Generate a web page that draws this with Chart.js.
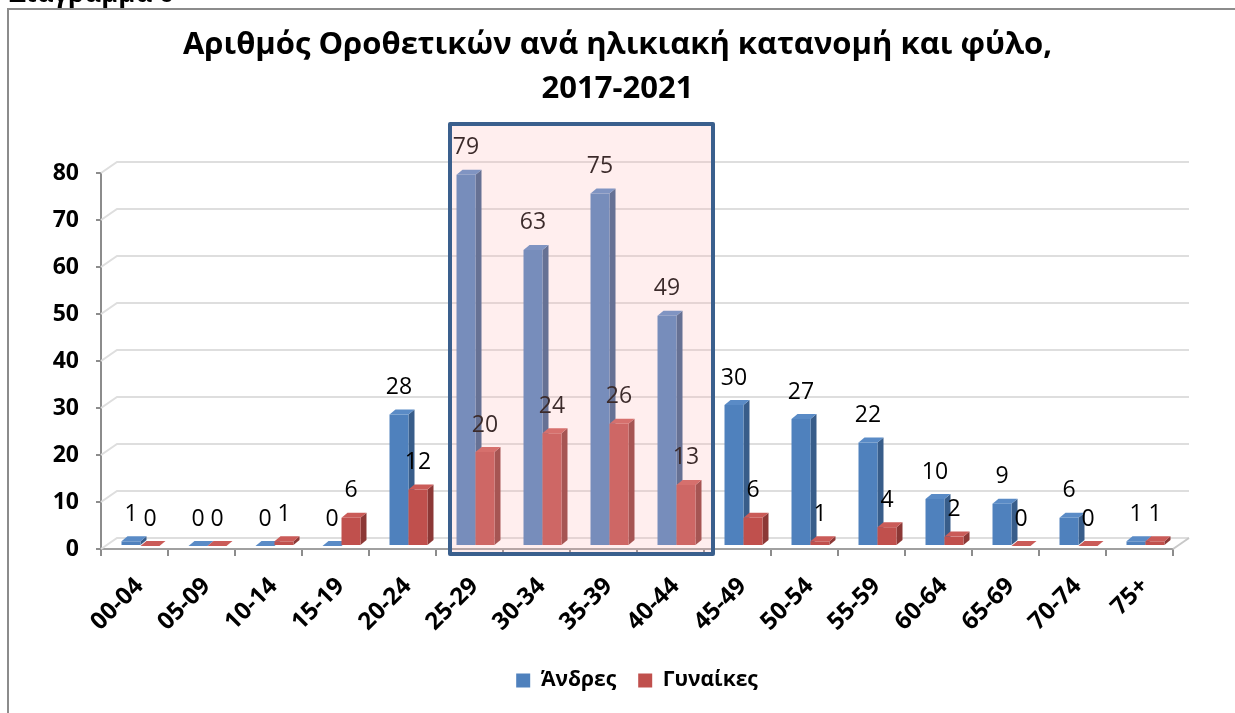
<!DOCTYPE html>
<html>
<head>
<meta charset="utf-8">
<script src="https://cdn.jsdelivr.net/npm/chart.js@4.4.0/dist/chart.umd.min.js"></script>
<style>
  body { margin: 0; background: #fff; }
  #wrap { position: relative; width: 1235px; height: 713px; overflow: hidden; }
  #caption { position: absolute; left: 9px; top: -21px; font: bold 26px/26px "Open Sans"; color: #000; white-space: nowrap; }
</style>
</head>
<body>
<div id="wrap">
  <div id="caption">Διάγραμμα 6</div>
  <canvas id="chart"></canvas>
</div>
<script>
// Chart data
const ageGroups = ["00-04", "05-09", "10-14", "15-19", "20-24", "25-29", "30-34", "35-39",
  "40-44", "45-49", "50-54", "55-59", "60-64", "65-69", "70-74", "75+"];
const men = [1, 0, 0, 0, 28, 79, 63, 75, 49, 30, 27, 22, 10, 9, 6, 1];
const women = [0, 0, 1, 6, 12, 20, 24, 26, 13, 6, 1, 4, 2, 0, 0, 1];
const yTicks = [0, 10, 20, 30, 40, 50, 60, 70, 80];
const seriesNames = ["Άνδρες", "Γυναίκες"];
const titleLines = ["Αριθμός Οροθετικών ανά ηλικιακή κατανομή και φύλο,", "2017-2021"];
const highlightFrom = "25-29";
const highlightTo = "40-44";

const FONT = "Open Sans";

// 3D look
const WALL_DX = 16, WALL_DY = -11;  // back wall offset
const BAR_DX = 6, BAR_DY = -3;      // bars stand mid depth
const SIDE_DX = 6, SIDE_DY = -5;    // bar thickness
const shades = [
  { front: "#4F81BD", top: "#5A8BC6", side: "#385D8A" },
  { front: "#C0504D", top: "#CA5B58", side: "#8C3836" }
];

function poly(ctx, color, pts) {
  ctx.fillStyle = color;
  ctx.beginPath();
  ctx.moveTo(pts[0][0], pts[0][1]);
  for (let k = 1; k < pts.length; k++) ctx.lineTo(pts[k][0], pts[k][1]);
  ctx.closePath();
  ctx.fill();
}

const bars3d = {
  id: "bars3d",
  beforeDraw(chart) {
    const ctx = chart.ctx;
    ctx.save();
    ctx.strokeStyle = "#8C8C8C";
    ctx.lineWidth = 2;
    ctx.beginPath();
    ctx.moveTo(8, chart.height);
    ctx.lineTo(8, 9);
    ctx.lineTo(chart.width, 9);
    ctx.stroke();
    ctx.restore();
  },
  beforeDatasetsDraw(chart) {
    const { ctx, chartArea: a, scales: { x, y } } = chart;
    ctx.save();

    // back wall grid lines
    ctx.strokeStyle = "#DEDEDE";
    ctx.lineWidth = 2;
    y.ticks.forEach(t => {
      const py = y.getPixelForValue(t.value);
      ctx.beginPath();
      ctx.moveTo(a.left, py);
      ctx.lineTo(a.left + WALL_DX, py + WALL_DY);
      ctx.lineTo(a.right + WALL_DX, py + WALL_DY);
      ctx.stroke();
    });
    ctx.strokeStyle = "#C8C8C8";
    ctx.beginPath();
    ctx.moveTo(a.right, a.bottom);
    ctx.lineTo(a.right + WALL_DX, a.bottom + WALL_DY);
    ctx.stroke();

    // bars, category by category
    const metas = chart.data.datasets.map((d, i) => chart.getDatasetMeta(i));
    for (let j = 0; j < chart.data.labels.length; j++) {
      metas.forEach((meta, i) => {
        const el = meta.data[j];
        const c = shades[i];
        const l = el.x - el.width / 2 + BAR_DX;
        const r = el.x + el.width / 2 + BAR_DX;
        const t = el.y + BAR_DY;
        const b = el.base + BAR_DY;
        poly(ctx, c.side, [[r, t], [r + SIDE_DX, t + SIDE_DY], [r + SIDE_DX, b + SIDE_DY], [r, b]]);
        if (b - t > 0) poly(ctx, c.front, [[l, t], [r, t], [r, b], [l, b]]);
        poly(ctx, c.top, [[l, t], [r, t], [r + SIDE_DX, t + SIDE_DY], [l + SIDE_DX, t + SIDE_DY]]);
      });
    }

    // value labels
    ctx.font = "23px '" + FONT + "'";
    ctx.fillStyle = "#000";
    ctx.textAlign = "center";
    ctx.textBaseline = "middle";
    metas.forEach((meta, i) => {
      meta.data.forEach((el, j) => {
        ctx.fillText(String(chart.data.datasets[i].data[j]), el.x + BAR_DX, el.y + BAR_DY - 27);
      });
    });
    ctx.restore();
    return false;
  },
  afterDraw(chart) {
    // highlighted age groups
    const { ctx, chartArea: a, scales: { x, y } } = chart;
    const i0 = chart.data.labels.indexOf(highlightFrom);
    const i1 = chart.data.labels.indexOf(highlightTo);
    const cw = x.getPixelForValue(1) - x.getPixelForValue(0);
    const l = x.getPixelForValue(i0) - cw / 2 + 14;
    const r = x.getPixelForValue(i1) + cw / 2 + 9;
    const t = y.getPixelForValue(yTicks[yTicks.length - 1]) - 49;
    const b = a.bottom + 5;
    ctx.save();
    ctx.fillStyle = "rgba(255, 181, 181, 0.23)";
    ctx.fillRect(l, t, r - l, b - t);
    ctx.strokeStyle = "#3A5F8D";
    ctx.lineWidth = 4;
    ctx.lineJoin = "round";
    ctx.strokeRect(l, t, r - l, b - t);
    ctx.restore();
  }
};

const data = {
  labels: ageGroups,
  datasets: [
    { label: seriesNames[0], data: men, backgroundColor: shades[0].front },
    { label: seriesNames[1], data: women, backgroundColor: shades[1].front }
  ]
};

const yFont = { family: FONT, size: 23, weight: "bold" };
const xFont = { family: FONT, size: 24, weight: "bold" };

const config = {
  type: "bar",
  data: data,
  plugins: [bars3d],
  options: {
    responsive: true,
    maintainAspectRatio: false,
    animation: false,
    layout: { padding: { top: 0, right: 0, bottom: 12, left: 0 } },
    datasets: { bar: { categoryPercentage: 0.567, barPercentage: 1 } },
    plugins: {
      title: {
        display: true,
        text: titleLines,
        color: "#000",
        font: { family: FONT, size: 31, weight: "bold", lineHeight: 1.42 },
        padding: { top: 23, bottom: 62 }
      },
      legend: {
        position: "bottom",
        fullSize: false,
        labels: { color: "#000", font: { family: FONT, size: 21, weight: "bold" }, boxWidth: 14, boxHeight: 14, padding: 22 }
      },
      tooltip: { enabled: false }
    },
    scales: {
      x: {
        grid: { drawOnChartArea: false, tickLength: 7, color: "#8C8C8C", lineWidth: 2 },
        border: { color: "#A0A0A0", width: 2 },
        ticks: { color: "#000", font: xFont, minRotation: 45, maxRotation: 45, padding: 16, labelOffset: 5 },
        afterFit: s => { s.height = 99; }
      },
      y: {
        min: 0,
        max: 80,
        afterBuildTicks: s => { s.ticks = yTicks.map(v => ({ value: v })); },
        grid: { drawOnChartArea: false, tickLength: 5, color: "#8C8C8C", lineWidth: 2 },
        border: { color: "#8C8C8C", width: 2 },
        ticks: { color: "#000", font: yFont, padding: 17 },
        afterFit: s => { s.width = 101; }
      },
      // empty right margin so the title stays centred on the whole canvas
      yRight: {
        position: "right",
        grid: { display: false },
        border: { display: false },
        ticks: { display: false },
        afterFit: s => { s.width = 62; }
      }
    }
  }
};

const ageChart = new Chart(document.getElementById("chart"), config);
</script>
</body>
</html>
